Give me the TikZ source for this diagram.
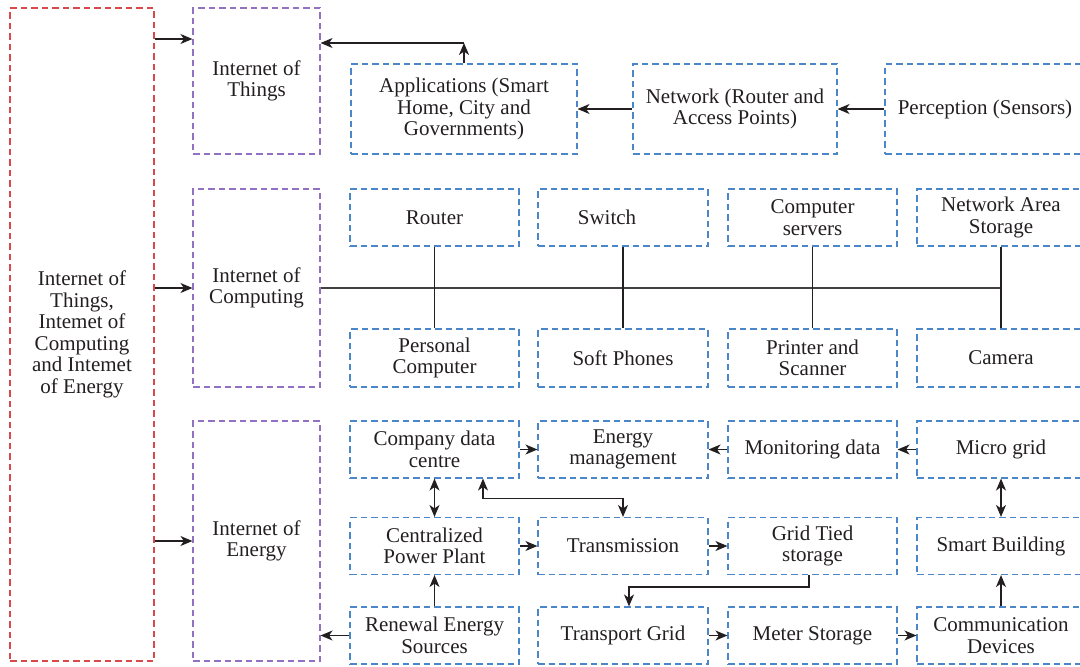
\documentclass[tikz,border=0pt]{standalone}
\usepackage{fontspec}
\setmainfont{Liberation Serif}
\usetikzlibrary{arrows.meta}
\definecolor{bred}{HTML}{D9484B}
\definecolor{bpurple}{HTML}{9371C2}
\definecolor{bblue}{HTML}{4A86C8}
\definecolor{ink}{HTML}{231F20}
\begin{document}
\begin{tikzpicture}[x=1pt,y=-1pt,
  every node/.style={font=\fontsize{21}{21.5}\selectfont, text=ink},
  bx/.style={draw, dash pattern=on 6.5pt off 4pt, line width=1.1pt, align=center, inner sep=0pt},
  redbox/.style={bx, draw=bred},
  purp/.style={bx, draw=bpurple, minimum width=127pt},
  blu/.style={bx, draw=bblue},
  cell/.style={blu, minimum height=57pt},
  arr/.style={-{Stealth[length=12pt,width=10pt,inset=3.5pt]}, line width=1.3pt, draw=ink},
  darr/.style={{Stealth[length=12pt,width=10pt,inset=3.5pt]}-{Stealth[length=12pt,width=10pt,inset=3.5pt]}, line width=1.3pt, draw=ink},
  ln/.style={line width=1.3pt, draw=ink},
  bus/.style={line width=1.9pt, draw=ink!85}]
\useasboundingbox (0,0) rectangle (1080,667);

% left column
\node[redbox, minimum width=144pt, minimum height=653pt] (all) at (82,334.5)
  {Internet of\\Things,\\Intemet of\\Computing\\and Intemet\\of Energy};
\node[purp, minimum height=146pt] (iot) at (256.5,81) {Internet of\\Things};
\node[purp, minimum height=198pt] (ioc) at (256.5,288) {Internet of\\Computing};
\node[purp, minimum height=240pt] (ioe) at (256.5,541) {Internet of\\Energy};

\draw[arr] (all.east |- 0,39) -- (iot.west |- 0,39);
\draw[arr] (all.east |- ioc.west) -- (ioc.west);
\draw[arr] (all.east |- ioe.west) -- (ioe.west);

% Internet of Things row
\node[blu, minimum width=226pt, minimum height=90pt] (app) at (464,109) {Applications (Smart\\Home, City and\\Governments)};
\node[blu, minimum width=204pt, minimum height=90pt] (net) at (735,109) {Network (Router and\\Access Points)};
\node[blu, minimum width=200pt, minimum height=90pt] (per) at (985,109) {Perception (Sensors)};
\coordinate (c1) at (464,43);
\draw[arr] (app.north) -- (c1);
\draw[arr] (c1) -- (iot.east |- c1);
\draw[arr] (net.west) -- (app.east);
\draw[arr] (per.west) -- (net.west -| net.east);

% Internet of Computing
\node[cell, minimum width=169pt] (rou) at (434.5,217.5) {Router};
\node[cell, minimum width=170pt] (swi) at (623,217.5) {Switch\hspace*{32pt}};
\node[cell, minimum width=169pt] (srv) at (812.5,217.5) {Computer\\servers};
\node[cell, minimum width=168pt] (nas) at (1001,217.5) {Network Area\\Storage};
\node[cell, minimum width=169pt, minimum height=58pt] (pc) at (434.5,358) {Personal\\Computer};
\node[cell, minimum width=170pt, minimum height=58pt] (sp) at (623,358) {Soft Phones};
\node[cell, minimum width=169pt, minimum height=58pt] (prn) at (812.5,358) {Printer and\\Scanner};
\node[cell, minimum width=168pt, minimum height=58pt] (cam) at (1001,358) {Camera};
\draw[bus] (ioc.east) -- (nas.south |- ioc.east);
\draw[ln] (rou.south) -- (pc.north);
\draw[ln] (swi.south) -- (sp.north);
\draw[ln] (srv.south) -- (prn.north);
\draw[ln] (nas.south) -- (cam.north);

% Internet of Energy
\node[cell, minimum width=169pt] (cdc) at (434.5,449.5) {Company data\\centre};
\node[cell, minimum width=170pt] (em) at (623,449.5) {Energy\\management};
\node[cell, minimum width=169pt] (mon) at (812.5,449.5) {Monitoring data};
\node[cell, minimum width=168pt] (mg) at (1001,449.5) {Micro grid};
\node[cell, minimum width=169pt] (cpp) at (434.5,546) {Centralized\\Power Plant};
\node[cell, minimum width=170pt] (tr) at (623,546) {Transmission};
\node[cell, minimum width=169pt] (gts) at (812.5,546) {Grid Tied\\storage};
\node[cell, minimum width=168pt] (sb) at (1001,546) {Smart Building};
\node[cell, minimum width=169pt] (ren) at (434.5,635.5) {Renewal Energy\\Sources};
\node[cell, minimum width=170pt] (tg) at (623,635.5) {Transport Grid};
\node[cell, minimum width=169pt] (ms) at (812.5,635.5) {Meter Storage};
\node[cell, minimum width=168pt] (cd) at (1001,635.5) {Communication\\Devices};

\draw[arr] (cdc.east) -- (em.west);
\draw[arr] (mon.west) -- (em.east);
\draw[arr] (mg.west) -- (mon.east);
\draw[darr] (cdc.south) -- (cpp.north);
\draw[darr] ([xshift=48.5pt]cdc.south) -- ++(0,20) -| (tr.north);
\draw[arr] (cpp.east) -- (tr.west);
\draw[arr] (tr.east) -- (gts.west);
\draw[arr] ([xshift=-3.5pt]gts.south) -- ++(0,12) -| ([xshift=6pt]tg.north);
\draw[arr] (ren.north) -- (cpp.south);
\draw[arr] (ren.west) -- (ioe.east |- ren.west);
\draw[arr] (tg.east) -- (ms.west);
\draw[arr] (ms.east) -- (cd.west);
\draw[arr] (cd.north) -- (sb.south);
\draw[darr] (mg.south) -- (sb.north);
\end{tikzpicture}
\end{document}
